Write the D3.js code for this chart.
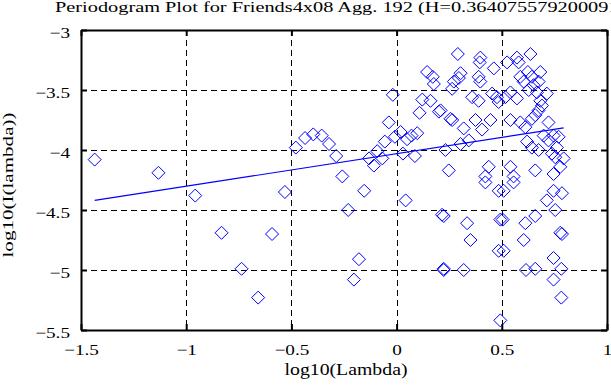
<!DOCTYPE html>
<html>
<head>
<meta charset="utf-8">
<script src="https://cdn.jsdelivr.net/npm/d3@7"></script>
<style>
  body { margin: 0; background: #fff; }
  svg { display: block; font-family: 'Liberation Serif', 'Times New Roman', serif; }
</style>
</head>
<body>
<svg id="chart" width="611" height="385"></svg>
<script>
// log10(lambda) / log10(I(lambda)) pairs
const logLambda = [
  -1.435, -1.132, -0.957, -0.832, -0.592, -0.531, -0.737, -0.658, -0.479, -0.435,
  -0.396, -0.356, -0.321, -0.287, -0.258, -0.154, -0.230, -0.179, -0.203, -0.131,
  -0.108, -0.092, -0.068, -0.056, -0.037, -0.018, -0.008, 0.019, 0.030, 0.050,
  0.071, 0.098, 0.087, 0.043, 0.109, 0.122, 0.145, 0.172, 0.177, 0.161,
  0.201, 0.216, 0.224, 0.291, 0.398, 0.395, 0.462, 0.525, 0.572, 0.580,
  0.636, 0.304, 0.296, 0.272, 0.390, 0.398, 0.390, 0.359, 0.264, 0.454,
  0.477, 0.485, 0.517, 0.541, 0.572, 0.588, 0.604, 0.624, 0.643, 0.683,
  0.675, 0.651, 0.628, 0.667, 0.714, 0.683, 0.691, 0.675, 0.659, 0.722,
  0.209, 0.256, 0.264, 0.319, 0.375, 0.406, 0.446, 0.304, 0.343, 0.232,
  0.541, 0.588, 0.612, 0.643, 0.620, 0.643, 0.675, 0.699, 0.722, 0.746,
  0.770, 0.762, 0.738, 0.754, 0.794, 0.778, 0.746, 0.248, 0.438, 0.422,
  0.541, 0.556, 0.659, 0.422, 0.485, 0.509, 0.556, 0.746, 0.786, 0.714,
  0.754, 0.659, 0.612, 0.224, 0.335, 0.351, 0.493, 0.504, 0.604, 0.778,
  0.786, 0.485, 0.509, 0.746, 0.224, 0.319, 0.615, 0.659, 0.783, 0.746,
  0.783, 0.493
];
const logPower = [
  -4.08, -4.19, -4.38, -4.69, -4.70, -4.35, -4.99, -5.23, -3.98, -3.90,
  -3.87, -3.88, -3.95, -4.05, -4.22, -4.34, -4.50, -4.91, -5.08, -4.07,
  -4.13, -4.01, -4.07, -3.93, -3.77, -3.54, -3.89, -3.85, -4.03, -3.91,
  -3.88, -3.86, -4.05, -4.42, -3.69, -3.58, -3.35, -3.39, -3.45, -3.59,
  -3.68, -4.54, -4.99, -3.20, -3.23, -3.27, -3.32, -3.27, -3.23, -3.27,
  -3.20, -3.36, -3.40, -3.43, -3.39, -3.43, -3.59, -3.56, -3.49, -3.53,
  -3.56, -3.60, -3.56, -3.52, -3.57, -3.39, -3.43, -3.35, -3.39, -3.35,
  -3.43, -3.46, -3.50, -3.52, -3.53, -3.59, -3.63, -3.67, -3.71, -3.77,
  -3.67, -3.74, -3.75, -3.82, -3.75, -3.83, -3.75, -3.95, -3.92, -4.00,
  -3.75, -3.77, -3.81, -3.74, -3.93, -3.98, -4.00, -3.88, -3.92, -3.88,
  -3.89, -3.98, -4.03, -4.06, -4.07, -4.14, -4.20, -4.17, -4.14, -4.22,
  -4.14, -4.22, -4.17, -4.27, -4.34, -4.34, -4.27, -4.34, -4.36, -4.42,
  -4.50, -4.55, -4.61, -4.55, -4.61, -4.75, -4.58, -4.58, -4.75, -4.69,
  -4.70, -4.84, -4.84, -4.90, -5.00, -5.00, -5.00, -4.99, -4.99, -5.08,
  -5.23, -5.42
];
// least-squares fit line end points
const fitX = [-1.435, 0.794];
const fitY = [-4.42, -3.815];

const xTicks = [-1.5, -1, -0.5, 0, 0.5, 1];
const yTicks = [-5.5, -5, -4.5, -4, -3.5, -3];
const titleText = 'Periodogram Plot for Friends4x08 Agg. 192 (H=0.364075579200091)';

const svg = d3.select('#chart');
const plotL = 81, plotR = 607, plotT = 30, plotB = 330;

const x = d3.scaleLinear().domain([-1.5, 1]).range([plotL, plotR]);
const y = d3.scaleLinear().domain([-5.5, -3]).range([plotB, plotT]);
const fmt = v => String(v).replace('-', '\u2212');

// the old renderer draws its Times glyphs wider than ours: stretch them
const stretch = (sel, k) => sel.each(function() {
  const w = this.getComputedTextLength();
  d3.select(this).attr('textLength', w * k).attr('lengthAdjust', 'spacingAndGlyphs');
});

// dashed grid
const grid = svg.append('g').attr('stroke', '#000').attr('stroke-width', 1)
  .attr('stroke-dasharray', '6,4').attr('shape-rendering', 'crispEdges');
xTicks.slice(1, -1).forEach(t => {
  grid.append('line').attr('x1', Math.round(x(t)) + 0.5).attr('x2', Math.round(x(t)) + 0.5)
    .attr('y1', plotT).attr('y2', plotB);
});
yTicks.slice(1, -1).forEach(t => {
  grid.append('line').attr('y1', Math.round(y(t)) + 0.5).attr('y2', Math.round(y(t)) + 0.5)
    .attr('x1', plotL).attr('x2', plotR);
});

// points (open diamonds)
const pts = logLambda.map((v, i) => ({ x: v, y: logPower[i] }));
const r = 6.5;
svg.append('g').selectAll('path').data(pts).enter().append('path')
  .attr('d', d => {
    const cx = x(d.x), cy = y(d.y);
    return `M${cx},${cy - r}L${cx + r},${cy}L${cx},${cy + r}L${cx - r},${cy}Z`;
  })
  .attr('fill', 'none').attr('stroke', '#0000ff').attr('stroke-width', 1);

// fit line
svg.append('line')
  .attr('x1', x(fitX[0])).attr('y1', y(fitY[0]))
  .attr('x2', x(fitX[1])).attr('y2', y(fitY[1]))
  .attr('stroke', '#0000ff').attr('stroke-width', 1.2);

// axes with inward ticks on all four sides
const axStyle = g => {
  g.attr('font-family', null).attr('font-size', null);
  g.select('.domain').attr('stroke', '#000').attr('stroke-width', 2);
  g.selectAll('.tick line').attr('stroke', '#000').attr('stroke-width', 2);
  g.selectAll('text').attr('fill', '#000').style('font-size', '15px');
};
svg.append('g').attr('transform', `translate(0,${plotB})`)
  .call(d3.axisBottom(x).tickValues(xTicks).tickFormat(fmt).tickSizeInner(-6).tickSizeOuter(0).tickPadding(14))
  .call(axStyle)
  .call(g => stretch(g.selectAll('text'), 1.28));
svg.append('g').attr('transform', `translate(0,${plotT})`)
  .call(d3.axisTop(x).tickValues(xTicks).tickFormat('').tickSizeInner(-6).tickSizeOuter(0))
  .call(axStyle);
svg.append('g').attr('transform', `translate(${plotL},0)`)
  .call(d3.axisLeft(y).tickValues(yTicks).tickFormat(fmt).tickSizeInner(-6).tickSizeOuter(0).tickPadding(11))
  .call(axStyle)
  .call(g => g.selectAll('text').attr('dy', '0.5em'))
  .call(g => stretch(g.selectAll('text'), 1.28));
svg.append('g').attr('transform', `translate(${plotR},0)`)
  .call(d3.axisRight(y).tickValues(yTicks).tickFormat('').tickSizeInner(-6).tickSizeOuter(0))
  .call(axStyle);

// title: the reference clips it at the right edge after "...7920009"
const title = svg.append('text').attr('x', 55).attr('y', 12).style('font-size', '14px').text(titleText);
const prefixW = title.node().getSubStringLength(0, 22);
const fullW = title.node().getComputedTextLength();
title.attr('textLength', fullW * 188 / prefixW).attr('lengthAdjust', 'spacingAndGlyphs');

const xLabel = svg.append('text').attr('x', 346).attr('y', 375).attr('text-anchor', 'middle')
  .style('font-size', '16px').text('log10(Lambda)');
xLabel.attr('textLength', 123).attr('lengthAdjust', 'spacingAndGlyphs');

const yLabel = svg.append('text').attr('transform', `translate(13,185) rotate(-90)`)
  .attr('text-anchor', 'middle').style('font-size', '15px').text('log10(I(lambda))');
yLabel.attr('textLength', 145).attr('lengthAdjust', 'spacingAndGlyphs');
</script>
</body>
</html>
